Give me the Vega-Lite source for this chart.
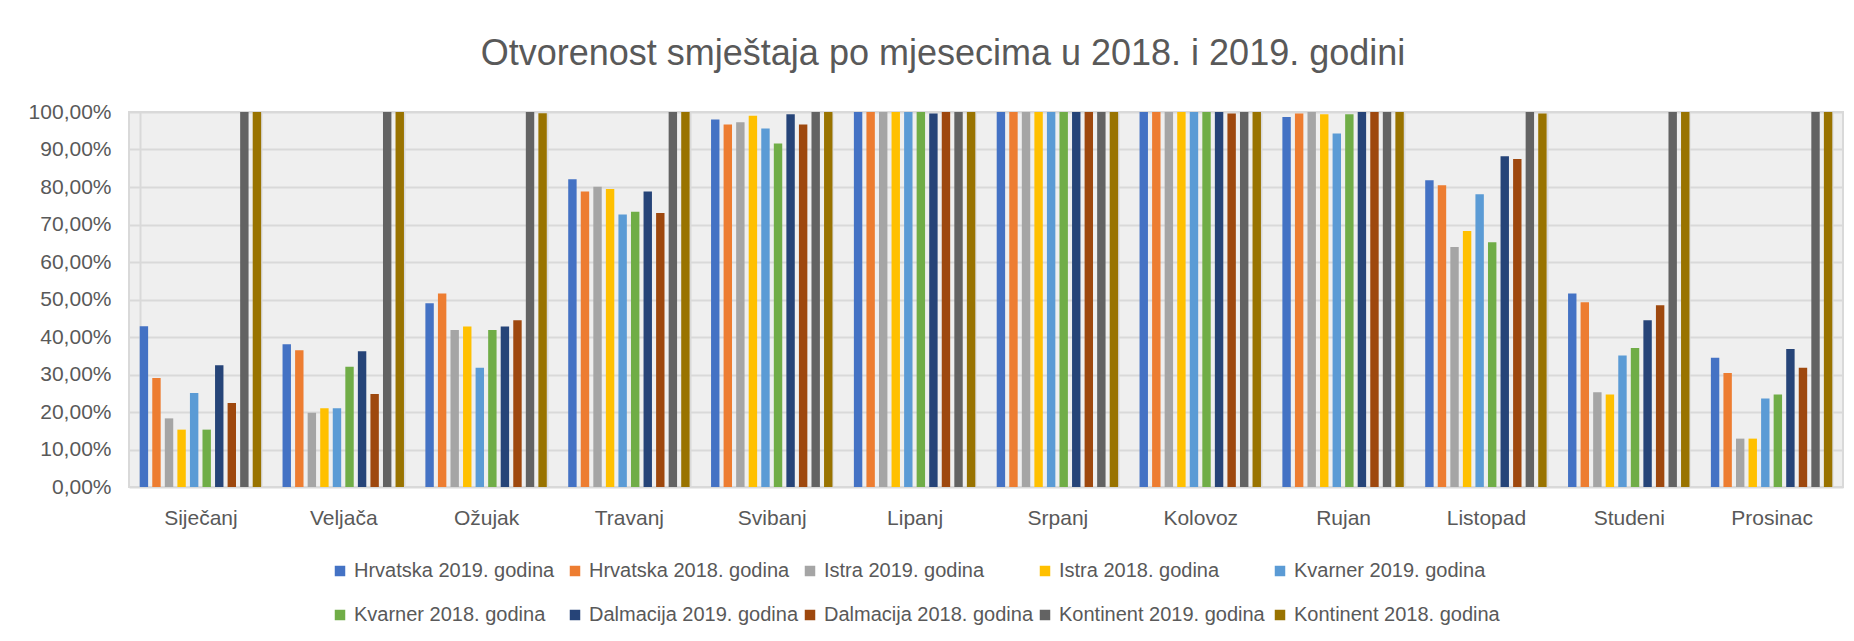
{
 "$schema": "https://vega.github.io/schema/vega-lite/v6.json",
 "width": 1714,
 "height": 375,
 "autosize": {"type": "none"},
 "padding": {"left": 129, "top": 112, "right": 11, "bottom": 154},
 "background": "white",
 "title": {"text": "Otvorenost smještaja po mjesecima u 2018. i 2019. godini", "font": "Liberation Sans", "fontSize": 36, "fontWeight": "normal", "color": "#595959", "anchor": "middle", "dx": -43, "offset": 28},
 "data": {"values": [
  {"month":"Siječanj","series":"Hrvatska 2019. godina","value":0.429},
  {"month":"Siječanj","series":"Hrvatska 2018. godina","value":0.291},
  {"month":"Siječanj","series":"Istra 2019. godina","value":0.183},
  {"month":"Siječanj","series":"Istra 2018. godina","value":0.153},
  {"month":"Siječanj","series":"Kvarner 2019. godina","value":0.251},
  {"month":"Siječanj","series":"Kvarner 2018. godina","value":0.153},
  {"month":"Siječanj","series":"Dalmacija 2019. godina","value":0.325},
  {"month":"Siječanj","series":"Dalmacija 2018. godina","value":0.224},
  {"month":"Siječanj","series":"Kontinent 2019. godina","value":1},
  {"month":"Siječanj","series":"Kontinent 2018. godina","value":1},
  {"month":"Veljača","series":"Hrvatska 2019. godina","value":0.381},
  {"month":"Veljača","series":"Hrvatska 2018. godina","value":0.365},
  {"month":"Veljača","series":"Istra 2019. godina","value":0.198},
  {"month":"Veljača","series":"Istra 2018. godina","value":0.210},
  {"month":"Veljača","series":"Kvarner 2019. godina","value":0.210},
  {"month":"Veljača","series":"Kvarner 2018. godina","value":0.321},
  {"month":"Veljača","series":"Dalmacija 2019. godina","value":0.362},
  {"month":"Veljača","series":"Dalmacija 2018. godina","value":0.248},
  {"month":"Veljača","series":"Kontinent 2019. godina","value":1},
  {"month":"Veljača","series":"Kontinent 2018. godina","value":1},
  {"month":"Ožujak","series":"Hrvatska 2019. godina","value":0.490},
  {"month":"Ožujak","series":"Hrvatska 2018. godina","value":0.516},
  {"month":"Ožujak","series":"Istra 2019. godina","value":0.419},
  {"month":"Ožujak","series":"Istra 2018. godina","value":0.428},
  {"month":"Ožujak","series":"Kvarner 2019. godina","value":0.318},
  {"month":"Ožujak","series":"Kvarner 2018. godina","value":0.419},
  {"month":"Ožujak","series":"Dalmacija 2019. godina","value":0.428},
  {"month":"Ožujak","series":"Dalmacija 2018. godina","value":0.445},
  {"month":"Ožujak","series":"Kontinent 2019. godina","value":1},
  {"month":"Ožujak","series":"Kontinent 2018. godina","value":0.997},
  {"month":"Travanj","series":"Hrvatska 2019. godina","value":0.821},
  {"month":"Travanj","series":"Hrvatska 2018. godina","value":0.788},
  {"month":"Travanj","series":"Istra 2019. godina","value":0.801},
  {"month":"Travanj","series":"Istra 2018. godina","value":0.795},
  {"month":"Travanj","series":"Kvarner 2019. godina","value":0.727},
  {"month":"Travanj","series":"Kvarner 2018. godina","value":0.734},
  {"month":"Travanj","series":"Dalmacija 2019. godina","value":0.788},
  {"month":"Travanj","series":"Dalmacija 2018. godina","value":0.731},
  {"month":"Travanj","series":"Kontinent 2019. godina","value":1},
  {"month":"Travanj","series":"Kontinent 2018. godina","value":1},
  {"month":"Svibanj","series":"Hrvatska 2019. godina","value":0.980},
  {"month":"Svibanj","series":"Hrvatska 2018. godina","value":0.967},
  {"month":"Svibanj","series":"Istra 2019. godina","value":0.973},
  {"month":"Svibanj","series":"Istra 2018. godina","value":0.990},
  {"month":"Svibanj","series":"Kvarner 2019. godina","value":0.956},
  {"month":"Svibanj","series":"Kvarner 2018. godina","value":0.916},
  {"month":"Svibanj","series":"Dalmacija 2019. godina","value":0.994},
  {"month":"Svibanj","series":"Dalmacija 2018. godina","value":0.967},
  {"month":"Svibanj","series":"Kontinent 2019. godina","value":1},
  {"month":"Svibanj","series":"Kontinent 2018. godina","value":1},
  {"month":"Lipanj","series":"Hrvatska 2019. godina","value":1},
  {"month":"Lipanj","series":"Hrvatska 2018. godina","value":1},
  {"month":"Lipanj","series":"Istra 2019. godina","value":1},
  {"month":"Lipanj","series":"Istra 2018. godina","value":1},
  {"month":"Lipanj","series":"Kvarner 2019. godina","value":1},
  {"month":"Lipanj","series":"Kvarner 2018. godina","value":1},
  {"month":"Lipanj","series":"Dalmacija 2019. godina","value":0.996},
  {"month":"Lipanj","series":"Dalmacija 2018. godina","value":1},
  {"month":"Lipanj","series":"Kontinent 2019. godina","value":1},
  {"month":"Lipanj","series":"Kontinent 2018. godina","value":1},
  {"month":"Srpanj","series":"Hrvatska 2019. godina","value":1},
  {"month":"Srpanj","series":"Hrvatska 2018. godina","value":1},
  {"month":"Srpanj","series":"Istra 2019. godina","value":1},
  {"month":"Srpanj","series":"Istra 2018. godina","value":1},
  {"month":"Srpanj","series":"Kvarner 2019. godina","value":1},
  {"month":"Srpanj","series":"Kvarner 2018. godina","value":1},
  {"month":"Srpanj","series":"Dalmacija 2019. godina","value":1},
  {"month":"Srpanj","series":"Dalmacija 2018. godina","value":1},
  {"month":"Srpanj","series":"Kontinent 2019. godina","value":1},
  {"month":"Srpanj","series":"Kontinent 2018. godina","value":1},
  {"month":"Kolovoz","series":"Hrvatska 2019. godina","value":1},
  {"month":"Kolovoz","series":"Hrvatska 2018. godina","value":1},
  {"month":"Kolovoz","series":"Istra 2019. godina","value":1},
  {"month":"Kolovoz","series":"Istra 2018. godina","value":1},
  {"month":"Kolovoz","series":"Kvarner 2019. godina","value":1},
  {"month":"Kolovoz","series":"Kvarner 2018. godina","value":1},
  {"month":"Kolovoz","series":"Dalmacija 2019. godina","value":1},
  {"month":"Kolovoz","series":"Dalmacija 2018. godina","value":0.996},
  {"month":"Kolovoz","series":"Kontinent 2019. godina","value":1},
  {"month":"Kolovoz","series":"Kontinent 2018. godina","value":1},
  {"month":"Rujan","series":"Hrvatska 2019. godina","value":0.987},
  {"month":"Rujan","series":"Hrvatska 2018. godina","value":0.996},
  {"month":"Rujan","series":"Istra 2019. godina","value":1},
  {"month":"Rujan","series":"Istra 2018. godina","value":0.994},
  {"month":"Rujan","series":"Kvarner 2019. godina","value":0.943},
  {"month":"Rujan","series":"Kvarner 2018. godina","value":0.994},
  {"month":"Rujan","series":"Dalmacija 2019. godina","value":1},
  {"month":"Rujan","series":"Dalmacija 2018. godina","value":1},
  {"month":"Rujan","series":"Kontinent 2019. godina","value":1},
  {"month":"Rujan","series":"Kontinent 2018. godina","value":1},
  {"month":"Listopad","series":"Hrvatska 2019. godina","value":0.818},
  {"month":"Listopad","series":"Hrvatska 2018. godina","value":0.805},
  {"month":"Listopad","series":"Istra 2019. godina","value":0.640},
  {"month":"Listopad","series":"Istra 2018. godina","value":0.683},
  {"month":"Listopad","series":"Kvarner 2019. godina","value":0.781},
  {"month":"Listopad","series":"Kvarner 2018. godina","value":0.653},
  {"month":"Listopad","series":"Dalmacija 2019. godina","value":0.882},
  {"month":"Listopad","series":"Dalmacija 2018. godina","value":0.875},
  {"month":"Listopad","series":"Kontinent 2019. godina","value":1},
  {"month":"Listopad","series":"Kontinent 2018. godina","value":0.996},
  {"month":"Studeni","series":"Hrvatska 2019. godina","value":0.516},
  {"month":"Studeni","series":"Hrvatska 2018. godina","value":0.493},
  {"month":"Studeni","series":"Istra 2019. godina","value":0.253},
  {"month":"Studeni","series":"Istra 2018. godina","value":0.247},
  {"month":"Studeni","series":"Kvarner 2019. godina","value":0.351},
  {"month":"Studeni","series":"Kvarner 2018. godina","value":0.371},
  {"month":"Studeni","series":"Dalmacija 2019. godina","value":0.445},
  {"month":"Studeni","series":"Dalmacija 2018. godina","value":0.485},
  {"month":"Studeni","series":"Kontinent 2019. godina","value":1},
  {"month":"Studeni","series":"Kontinent 2018. godina","value":1},
  {"month":"Prosinac","series":"Hrvatska 2019. godina","value":0.345},
  {"month":"Prosinac","series":"Hrvatska 2018. godina","value":0.304},
  {"month":"Prosinac","series":"Istra 2019. godina","value":0.129},
  {"month":"Prosinac","series":"Istra 2018. godina","value":0.129},
  {"month":"Prosinac","series":"Kvarner 2019. godina","value":0.236},
  {"month":"Prosinac","series":"Kvarner 2018. godina","value":0.247},
  {"month":"Prosinac","series":"Dalmacija 2019. godina","value":0.368},
  {"month":"Prosinac","series":"Dalmacija 2018. godina","value":0.318},
  {"month":"Prosinac","series":"Kontinent 2019. godina","value":1},
  {"month":"Prosinac","series":"Kontinent 2018. godina","value":1}
 ]},
 "mark": {"type": "bar"},
 "encoding": {
  "x": {
   "field": "month", "type": "nominal",
   "sort": ["Siječanj","Veljača","Ožujak","Travanj","Svibanj","Lipanj","Srpanj","Kolovoz","Rujan","Listopad","Studeni","Prosinac"],
   "scale": {"paddingInner": 0.15, "paddingOuter": 0.075},
   "axis": {"title": null, "labelAngle": 0, "ticks": false, "domain": false, "grid": true, "tickBand": "extent", "gridColor": "#d9d9d9", "gridWidth": 2, "labelPadding": 20, "labelFont": "Liberation Sans", "labelFontSize": 21, "labelColor": "#595959"}
  },
  "xOffset": {
   "field": "series", "type": "nominal",
   "sort": ["Hrvatska 2019. godina","Hrvatska 2018. godina","Istra 2019. godina","Istra 2018. godina","Kvarner 2019. godina","Kvarner 2018. godina","Dalmacija 2019. godina","Dalmacija 2018. godina","Kontinent 2019. godina","Kontinent 2018. godina"],
   "scale": {"paddingInner": 0.33, "paddingOuter": 0}
  },
  "y": {
   "field": "value", "type": "quantitative",
   "scale": {"domain": [0, 1], "nice": false},
   "axis": {"title": null, "values": [0,0.1,0.2,0.3,0.4,0.5,0.6,0.7,0.8,0.9,1], "labelExpr": "replace(format(datum.value, '.2%'), '.', ',')", "domain": false, "ticks": false, "gridColor": "#d9d9d9", "gridWidth": 2, "labelPadding": 18, "labelFont": "Liberation Sans", "labelFontSize": 21, "labelColor": "#595959"}
  },
  "color": {
   "field": "series", "type": "nominal",
   "scale": {
    "domain": ["Hrvatska 2019. godina","Hrvatska 2018. godina","Istra 2019. godina","Istra 2018. godina","Kvarner 2019. godina","Kvarner 2018. godina","Dalmacija 2019. godina","Dalmacija 2018. godina","Kontinent 2019. godina","Kontinent 2018. godina"],
    "range": ["#4472C4","#ED7D31","#A5A5A5","#FFC000","#5B9BD5","#70AD47","#264478","#9E480E","#636363","#997300"]
   },
   "legend": {"orient": "none", "legendX": 201, "legendY": 449, "direction": "horizontal", "columns": 5, "gridAlign": "all", "title": null, "symbolType": "square", "symbolSize": 110, "symbolStrokeWidth": 0, "labelFont": "Liberation Sans", "labelFontSize": 20, "labelColor": "#595959", "columnPadding": 1, "rowPadding": 24, "labelOffset": 4, "padding": 0, "labelLimit": 300}
  }
 },
 "config": {"view": {"fill": "#efefef", "stroke": "#d9d9d9", "strokeWidth": 2}}
}
